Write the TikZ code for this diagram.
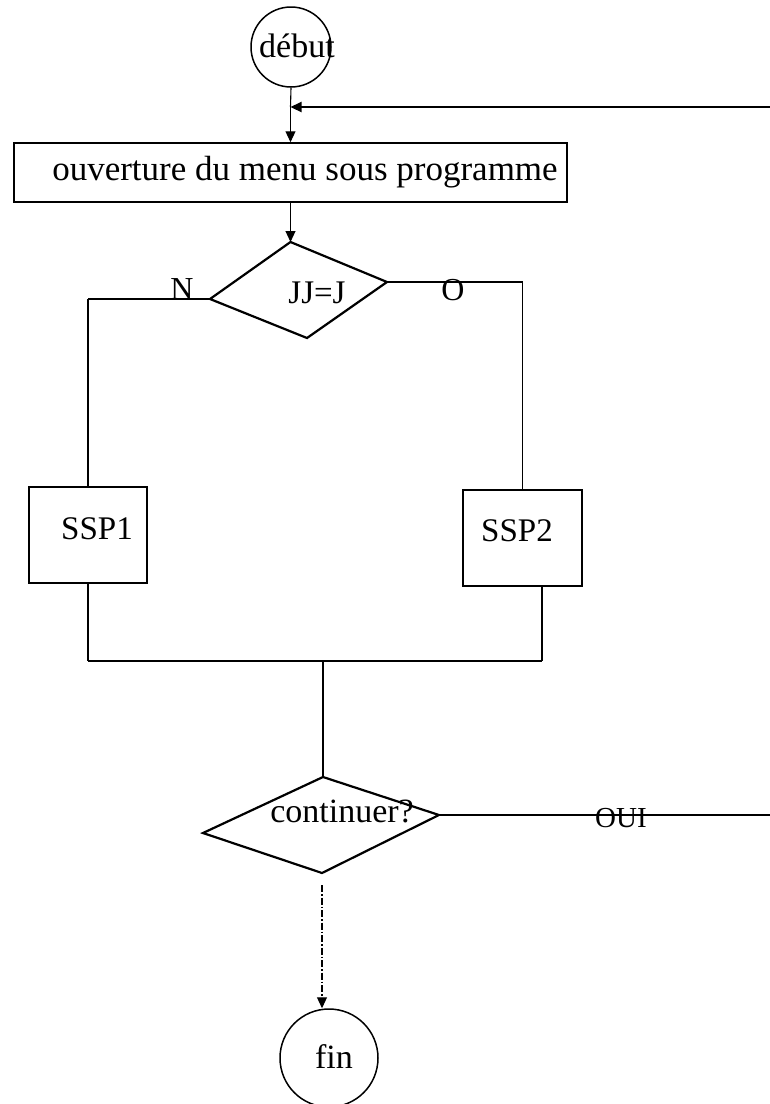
\documentclass[tikz,border=0pt]{standalone}
\usepackage{fontspec}
\setmainfont{Liberation Serif}
\usetikzlibrary{arrows.meta,calc}
\begin{document}
\begin{tikzpicture}[x=1pt,y=-1pt,
  thin line/.style={line width=1.1pt},
  bold line/.style={line width=2.2pt},
  tipped/.style={-{Triangle[length=11pt,width=10pt]}},
  outline/.style={draw, line width=1.5pt, inner sep=0pt},
  txt/.style={inner sep=0pt, font=\fontsize{#1}{#1}\selectfont},
  txt/.default=33]
\useasboundingbox (0,0) rectangle (770,1104);
\clip (0,0) rectangle (770,1104);

% start circle
\node[outline, circle, minimum size=80pt] (debut) at (291,47) {};
\node[txt=34, anchor=base] (debuttxt) at (297,57) {début};

% menu box
\node[outline, rectangle, minimum width=553pt, minimum height=59pt] (menu) at (290.5,172.5) {};
\node[txt=35, anchor=base] (menutxt) at (305,180) {ouverture du menu sous programme};

% loop-back entry
\coordinate (loopin) at (770,107);
\coordinate (loopj) at (290.5,107);
\draw[thin line] (debut.south) -- (loopj);
\draw[thin line, tipped] (loopj) -- (menu.north);
\draw[bold line, tipped] (loopin) -- (loopj);

% decision JJ=J
\coordinate (d1t) at (290.5,242);
\coordinate (d1l) at (210,299);
\coordinate (d1r) at (387,282);
\coordinate (d1b) at (307,338);
\draw[bold line, line join=miter] (d1t) -- (d1r) -- (d1b) -- (d1l) -- cycle;
\node[txt=33] (d1txt) at (317,293) {JJ=J};
\draw[thin line, tipped] (menu.south) -- (d1t);

% SSP boxes
\node[outline, rectangle, minimum width=118pt, minimum height=96pt] (ssp1) at (88,535) {};
\node[txt=33, anchor=base] (ssp1txt) at (97,539) {SSP1};
\node[outline, rectangle, minimum width=119pt, minimum height=96pt] (ssp2) at (522.5,538) {};
\node[txt=33, anchor=base] (ssp2txt) at (517,541) {SSP2};

% branches
\coordinate (c1) at (ssp1.north |- d1l);
\coordinate (c2) at (ssp2.north |- d1r);
\draw[bold line] (d1l) -- (c1);
\draw[thin line] (c1) -- (ssp1.north);
\draw[bold line] (d1r) -- (c2);
\draw[thin line] (c2) -- (ssp2.north);
\node[txt=32, anchor=base] (nlab) at (182,299) {N};
\node[txt=32] (olab) at (453,290) {O};

% join
\coordinate (s2b) at ($(ssp2.south)+(19.5,0)$);
\coordinate (j1) at (ssp1.south |- 0,661);
\coordinate (j2) at (s2b |- 0,661);
\coordinate (jm) at (323,661);
\draw[thin line] (ssp1.south) -- (j1);
\draw[thin line] (s2b) -- (j2);
\draw[bold line] (j1) -- (j2);

% decision continuer?
\coordinate (d2t) at (323,777);
\coordinate (d2l) at (203,833);
\coordinate (d2r) at (439,815);
\coordinate (d2b) at (322,873);
\draw[bold line, line join=miter] (d2t) -- (d2r) -- (d2b) -- (d2l) -- cycle;
\node[txt=34, anchor=base] (d2txt) at (342,822) {continuer?};
\draw[thin line] (jm) -- (d2t);

% OUI loop
\coordinate (loopout) at (770,815);
\draw[bold line] (d2r) -- (loopout);
\node[txt=29] (ouilab) at (621,818) {OUI};

% end
\node[outline, circle, minimum size=98pt] (fin) at (329,1058) {};
\node[txt=34, anchor=base] (fintxt) at (334,1068) {fin};
\draw[thin line, dash pattern=on 7pt off 2pt on 1.5pt off 2pt, tipped, shorten <=12pt] (d2b) -- (d2b |- fin.north);
\end{tikzpicture}
\end{document}
